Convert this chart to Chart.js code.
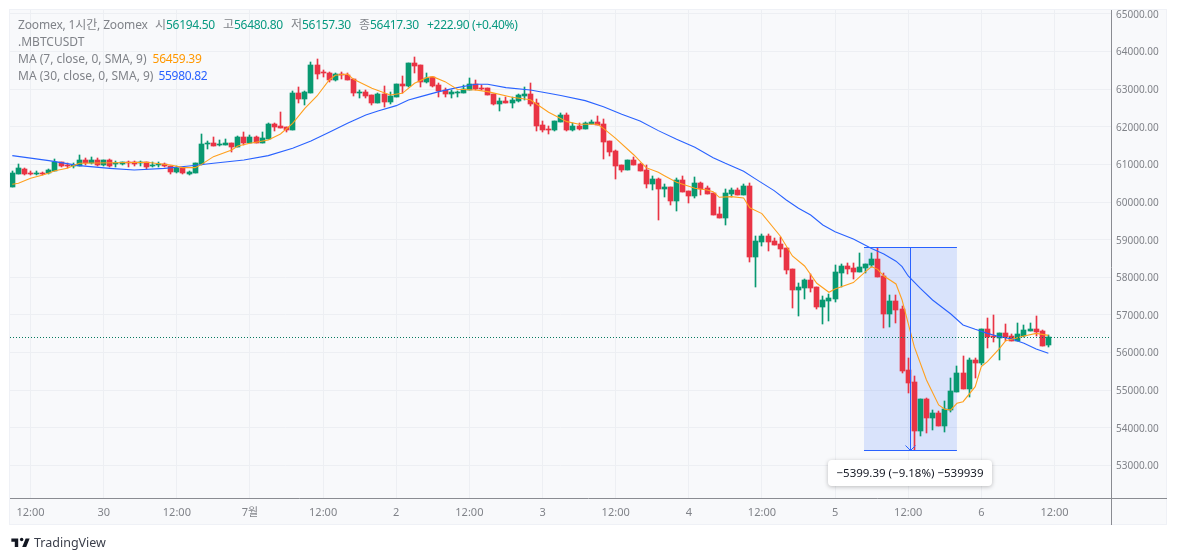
<!DOCTYPE html>
<html lang="ko">
<head>
<meta charset="utf-8">
<title>MBTCUSDT</title>
<script src="https://cdn.jsdelivr.net/npm/chart.js@4/dist/chart.umd.js"></script>
<style>
    html, body { margin: 0; padding: 0; background: #fff; }
    body { width: 1177px; height: 560px; position: relative; overflow: hidden; font-family: "Noto Sans", "Noto Sans CJK KR", sans-serif; }
    .frame { position: absolute; left: 9px; top: 9px; width: 1156px; height: 514px; background: #f8f9fb; border: 1px solid #eff1f6; }
    canvas { position: absolute; left: 0; top: 0; }
    .legend { position: absolute; left: 18px; top: 16px; font-size: 12px; line-height: 17px; color: #808389; white-space: nowrap; }
    .legend .up { color: #089981; letter-spacing: -0.3px; }
    .legend .fast { color: #ff9800; margin-left: 6px; letter-spacing: -0.3px; }
    .legend .slow { color: #2962ff; margin-left: 5px; letter-spacing: -0.3px; }
    .legend .name { display: inline-block; width: 137px; letter-spacing: -0.15px; }
    .legend .quote { display: inline-block; width: 68px; }
    .measure { position: absolute; left: 828px; top: 460px; width: 164px; height: 26px; line-height: 26px; text-align: center; background: #fff; border-radius: 4px; box-shadow: 0 1px 4px rgba(0, 0, 0, 0.25); font-size: 11.5px; color: #131722; white-space: nowrap; }
    .brand { position: absolute; left: 10px; top: 534px; display: flex; align-items: center; font-size: 12.5px; color: #3a3e4a; }
    .brand svg { margin-right: 3px; }
</style>
</head>
<body>
<div class="frame"></div>
<canvas id="chart" width="1177" height="560"></canvas>
<div class="legend">
    <div><span class="name">Zoomex, 1시간, Zoomex</span><span class="quote">시<span class="up">56194.50</span></span><span class="quote">고<span class="up">56480.80</span></span><span class="quote">저<span class="up">56157.30</span></span><span class="quote">종<span class="up">56417.30</span></span><span class="up">+222.90 (+0.40%)</span></div>
    <div>.MBTCUSDT</div>
    <div>MA (7, close, 0, SMA, 9)<span class="fast">56459.39</span></div>
    <div>MA (30, close, 0, SMA, 9)<span class="slow">55980.82</span></div>
</div>
<div class="measure">−5399.39 (−9.18%) −539939</div>
<div class="brand">
    <svg width="21" height="16" viewBox="0 0 36 28"><path fill="#131722" d="M14 6H2v6h6v9h6V6zm14 15h-7l6-15h7l-6 15z"></path><circle fill="#131722" cx="20" cy="8" r="3"></circle></svg>
    <span>TradingView</span>
</div>

<script>
const opens = [
    60411,60748,60889,60774,60757,60774,60765,60827,61058,60987,
    60978,60969,61120,61040,61120,60987,61120,61005,61022,61067,
    61075,61049,61058,60978,60978,61022,60951,60801,60907,60757,
    60783,61022,61545,61563,61510,61518,61563,61465,61722,61580,
    61731,61580,61687,62076,62014,61996,61926,62909,62732,62909,
    63645,63450,63441,63246,63405,63388,63272,62909,62936,62847,
    62635,62874,62661,62803,63140,63086,63698,63645,63193,63317,
    63113,62989,62883,62909,62909,62989,63140,63033,63033,62874,
    62608,62688,62635,62688,62821,62874,62635,62050,61944,61917,
    62130,62316,61917,62023,61944,62077,62130,62077,61625,61359,
    60987,60854,61120,61014,60854,60482,60615,60349,60402,60030,
    60588,60296,60163,60508,60376,60243,59685,59578,60216,60322,
    60190,60429,58542,58940,59100,58967,58887,58781,58223,57665,
    57718,57931,57744,57213,57372,57426,58117,58303,58249,58143,
    58249,58329,58489,58037,57027,57372,57159,55538,55219,53917,
    54767,54262,54395,54050,54475,54953,55458,55033,55804,55724,
    56628,56442,56397,56521,56442,56309,56442,56575,56628,56575,
    56194.5
];
const highs = [
    60827,61013,60916,60827,60818,60801,60880,61137,61058,61031,
    61031,61261,61164,61199,61164,61120,61137,61084,61075,61093,
    61093,61102,61058,61058,61075,61040,60969,60960,60916,60827,
    61031,61811,61634,61722,61651,61669,61563,61758,61864,61784,
    61758,61864,62094,62112,62387,61996,62953,63060,62954,63715,
    63804,63512,63459,63423,63450,63432,63272,62980,62971,62847,
    62892,63086,62936,63140,63352,63698,63857,63645,63432,63335,
    63175,63042,62980,62962,63113,63299,63246,63113,63033,62874,
    62768,62794,62794,62874,63060,63166,62741,62156,62023,62156,
    62369,62369,62103,62103,62130,62183,62289,62210,61625,61386,
    60987,61120,61200,61040,60987,60695,60641,60482,60402,60641,
    60695,60296,60668,60535,60429,60243,59871,60349,60376,60376,
    60482,60509,59100,59153,59153,59047,59073,58781,58223,57851,
    57957,58090,57744,57505,57558,58329,58356,58382,58382,58648,
    58356,58648,58781,58117,57532,57532,57239,55857,55379,54767,
    54794,54475,54448,54714,55317,55644,55910,55857,55857,56628,
    56920,57000,56521,56761,56495,56787,56734,56787,56973,56601,
    56480.8
];
const lows = [
    60411,60748,60721,60712,60721,60721,60748,60818,60942,60898,
    60916,60960,60996,61022,60960,60969,60942,60942,60987,60942,
    60969,60960,60880,60942,60934,60925,60748,60783,60757,60712,
    60783,60996,61421,61501,61501,61510,61332,61465,61510,61563,
    61563,61580,61687,61890,61961,61855,61926,62626,62581,62909,
    63281,63335,63202,63228,63272,63246,62830,62768,62759,62590,
    62635,62537,62608,62803,62892,63069,63432,63069,63175,63069,
    62785,62803,62768,62794,62909,62980,62980,62980,62847,62581,
    62422,62635,62493,62670,62714,62555,61891,61864,61811,61891,
    62130,61891,61891,61926,61944,62077,62050,61146,61226,60615,
    60801,60854,60987,60828,60376,60323,59525,60137,59924,59764,
    60269,59977,60110,60190,60216,59658,59578,59392,60136,60190,
    60190,58409,57745,58834,58701,58861,58542,58090,57186,56974,
    57426,57612,57160,56761,56841,57346,57744,58090,57957,58143,
    58117,58276,58010,56655,56681,56788,55458,54927,53412,53784,
    53864,53943,54050,53890,54422,54953,55033,54820,55325,55671,
    56123,56282,55804,56309,56309,56309,56415,56575,56442,56176,
    56157.3
];
const closes = [
    60765,60907,60748,60748,60774,60757,60854,61075,60960,60969,
    60996,61120,61031,61120,60996,61120,60969,61049,61058,61049,
    61022,61067,60942,60996,61022,60951,60801,60916,60765,60801,
    61031,61545,61563,61501,61545,61571,61465,61740,61563,61731,
    61580,61704,62076,62005,61979,61926,62900,62741,62936,63645,
    63414,63423,63246,63405,63370,63246,62909,62936,62821,62626,
    62874,62661,62821,63140,63086,63698,63618,63193,63299,63086,
    62954,62874,62936,62936,63007,63140,62998,63007,62847,62608,
    62688,62643,62714,62847,62874,62608,62023,61917,61926,62156,
    62316,61917,62023,61944,62103,62130,62050,61598,61332,60960,
    60854,61120,60987,60828,60482,60615,60349,60402,60030,60588,
    60269,60163,60508,60349,60216,59658,59578,60243,60322,60190,
    60429,58542,58967,59100,58940,58861,58754,58196,57665,57744,
    57931,57718,57213,57399,57452,58143,58303,58223,58143,58276,
    58356,58489,58010,57027,57372,57133,55511,55192,53917,54767,
    54262,54395,54050,54501,54980,55458,55033,55804,55724,56628,
    56415,56415,56521,56415,56309,56495,56601,56628,56548,56176,
    56417.3
];

// MA readings, candle number then price
const fastMaBars = [0,1,3,5,6,7,9,11,22,26,28,30,31,33,36,37,39,42,44,46,48,50,52,53,55,56,59,62,64,66,68,69,71,73,76,78,82,85,88,91,93,96,97,99,102,104,106,107,109,112,114,115,116,118,120,121,123,126,128,130,132,134,135,138,140,141,142,143,145,146,147,148,150,152,153,154,155,156,158,159,160,162,163,164,166,168,170];
const fastMaValues = [60473,60500,60632,60721,60774,60836,60898,61031,61058,60987,60916,60916,60996,61208,61386,61492,61563,61652,61811,62094,62493,62821,63246,63370,63405,63264,63024,62847,62892,63157,63308,63335,63202,62998,62980,62936,62785,62720,62387,62139,62068,62068,61961,61696,61253,60916,60792,60703,60526,60367,60323,60278,60128,60145,60110,59850,59695,59100,58568,58303,57842,57603,57691,57860,58152,58285,58213,58036,57824,57398,56778,56158,55272,54608,54493,54475,54652,54696,55095,55627,55760,56114,56318,56353,56442,56512,56459];
const slowMaBars = [0,6,11,16,20,25,29,33,38,42,46,49,52,55,58,60,63,65,67,70,73,76,78,81,85,88,90,94,97,100,103,106,109,112,115,117,120,122,125,127,129,131,133,135,138,141,143,145,146,147,149,151,154,156,158,160,162,164,166,168,170];
const slowMaValues = [61235,61102,60969,60898,60854,60898,60960,61031,61120,61235,61430,61625,61855,62094,62316,62422,62564,62714,62803,62936,63042,63131,63131,63042,62980,62892,62835,62697,62537,62334,62156,61900,61669,61456,61182,61031,60820,60610,60305,60057,59835,59658,59392,59215,59020,58770,58620,58430,58285,58036,57708,57398,57026,56734,56619,56512,56424,56362,56247,56096,55981];

const priceTicks = [53000,54000,55000,56000,57000,58000,59000,60000,61000,62000,63000,64000,65000];
const timeTickBars = [3,15,27,39,51,63,75,87,99,111,123,135,147,159,171];
const timeTickLabels = ['12:00','30','12:00','7월','12:00','2','12:00','3','12:00','4','12:00','5','12:00','6','12:00'];

const lastPrice = 56417.3;
const measureStartBar = 139.75;
const measureEndBar = 155;
const measureMidBar = 147.35;
const measureTopPrice = 58800;
const measureBottomPrice = 53400;

const upColor = '#089971';
const downColor = '#e93445';
const axisLineColor = '#8a8c92';
const measureColor = '#2962ff';

const candleColors = closes.map((close, i) => close >= opens[i] ? upColor : downColor);
const wickData = highs.map((high, i) => ({ x: i, y: [lows[i], high] }));
const bodyData = closes.map((close, i) => ({ x: i, y: [opens[i], close] }));
const fastMaData = fastMaBars.map((bar, i) => ({ x: bar, y: fastMaValues[i] }));
const slowMaData = slowMaBars.map((bar, i) => ({ x: bar, y: slowMaValues[i] }));

// Snap candles to whole pixels so wicks stay sharp
const snapPlugin = {
    id: 'snap',
    afterDatasetsUpdate(chart) {
        chart.data.datasets.forEach((dataset, index) => {
            if (dataset.type === 'line') return;
            chart.getDatasetMeta(index).data.forEach(bar => {
                bar.x = Math.floor(bar.x) + 0.5;
                bar.y = Math.round(bar.y);
                bar.base = Math.round(bar.base);
                if (bar.base === bar.y) bar.base = bar.y + 1;
            });
        });
    }
};

// Measure box goes under the candles, its lines and the axis lines on top
const overlayPlugin = {
    id: 'overlay',
    beforeDatasetsDraw(chart) {
        const { ctx, scales: { x, y } } = chart;
        const left = x.getPixelForValue(measureStartBar);
        const right = x.getPixelForValue(measureEndBar);
        const top = y.getPixelForValue(measureTopPrice);
        const bottom = y.getPixelForValue(measureBottomPrice);
        ctx.save();
        ctx.fillStyle = 'rgba(41, 98, 255, 0.15)';
        ctx.fillRect(left, top, right - left, bottom - top);
        ctx.restore();
    },
    afterDatasetsDraw(chart) {
        const { ctx, chartArea, scales: { x, y } } = chart;
        const left = x.getPixelForValue(measureStartBar);
        const right = x.getPixelForValue(measureEndBar);
        const mid = Math.round(x.getPixelForValue(measureMidBar)) + 0.5;
        const top = Math.round(y.getPixelForValue(measureTopPrice)) + 0.5;
        const bottom = Math.round(y.getPixelForValue(measureBottomPrice)) + 0.5;
        const lastY = Math.round(y.getPixelForValue(lastPrice)) + 0.5;

        ctx.save();
        // last price line
        ctx.strokeStyle = '#067a5e';
        ctx.lineWidth = 1;
        ctx.setLineDash([1, 2]);
        ctx.beginPath();
        ctx.moveTo(chartArea.left, lastY);
        ctx.lineTo(chartArea.right, lastY);
        ctx.stroke();
        ctx.setLineDash([]);

        // measure lines and arrow
        ctx.strokeStyle = measureColor;
        ctx.beginPath();
        ctx.moveTo(left, top);
        ctx.lineTo(right, top);
        ctx.moveTo(left, bottom);
        ctx.lineTo(right, bottom);
        ctx.moveTo(mid, top);
        ctx.lineTo(mid, bottom);
        ctx.moveTo(mid - 5, bottom - 5);
        ctx.lineTo(mid, bottom);
        ctx.lineTo(mid + 5, bottom - 5);
        ctx.stroke();

        // axis lines
        ctx.strokeStyle = axisLineColor;
        ctx.beginPath();
        ctx.moveTo(chartArea.left, chartArea.bottom + 0.5);
        ctx.lineTo(chart.width - 10, chartArea.bottom + 0.5);
        ctx.moveTo(chartArea.right + 0.5, chartArea.top);
        ctx.lineTo(chartArea.right + 0.5, chart.height - 35);
        ctx.stroke();
        ctx.restore();
    }
};

new Chart(document.getElementById('chart'), {
    type: 'bar',
    data: {
        datasets: [
            { type: 'line', label: 'MA 7', data: fastMaData, borderColor: '#ffa01e', borderWidth: 1.1, pointRadius: 0, order: 0 },
            { type: 'line', label: 'MA 30', data: slowMaData, borderColor: '#2962ff', borderWidth: 1.1, pointRadius: 0, order: 1 },
            { label: 'Body', data: bodyData, backgroundColor: candleColors, barThickness: 5, grouped: false, order: 2 },
            { label: 'Wick', data: wickData, backgroundColor: candleColors, barThickness: 1, grouped: false, order: 3 }
        ]
    },
    options: {
        responsive: false,
        animation: false,
        layout: { padding: { left: 10, top: 10, right: 10, bottom: 35 } },
        plugins: {
            legend: { display: false },
            tooltip: { enabled: false }
        },
        scales: {
            x: {
                type: 'linear',
                offset: false,
                min: -0.38,
                max: 180.28,
                border: { display: false },
                grid: { color: '#edeff3', offset: false, drawTicks: false },
                ticks: {
                    autoSkip: false,
                    maxRotation: 0,
                    padding: 8,
                    color: '#808389',
                    font: { family: '"Noto Sans", "Noto Sans CJK KR", sans-serif', size: 11 },
                    callback: (value, index) => timeTickLabels[index]
                },
                afterBuildTicks: (axis) => { axis.ticks = timeTickBars.map(value => ({ value })); },
                afterFit: (axis) => { axis.height = 27; axis.paddingLeft = 0; axis.paddingRight = 0; }
            },
            y: {
                position: 'right',
                min: 52136,
                max: 65106,
                border: { display: false },
                grid: { color: '#edeff3', drawTicks: false },
                ticks: {
                    padding: 5,
                    labelOffset: 1,
                    color: '#808389',
                    font: { family: '"Noto Sans", sans-serif', size: 10 },
                    callback: (value) => value.toFixed(2)
                },
                afterBuildTicks: (axis) => { axis.ticks = priceTicks.map(value => ({ value })); },
                afterFit: (axis) => { axis.width = 56; axis.paddingTop = 0; axis.paddingBottom = 0; }
            }
        }
    },
    plugins: [snapPlugin, overlayPlugin]
});
</script>
</body>
</html>
